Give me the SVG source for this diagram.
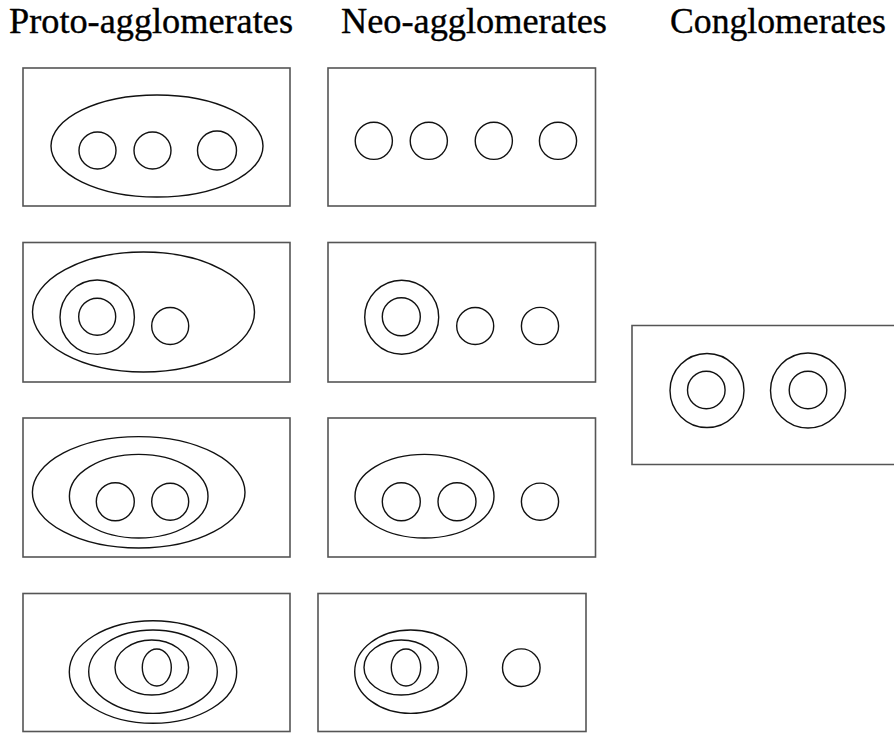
<svg xmlns="http://www.w3.org/2000/svg" width="894" height="733" viewBox="0 0 894 733">
  <style>
    .title { font-size: 35px; fill: #000; stroke: #000; stroke-width: 0.35; }
    .frame { fill: none; stroke: #555; stroke-width: 1.6; }
    .ring { fill: none; stroke: #111; stroke-width: 1.4; }
  </style>
  <rect width="894" height="733" fill="#fff"/>

  <!-- column headings -->
  <g id="headings" font-family="Liberation Serif">
    <text class="title" x="9" y="33" textLength="284" lengthAdjust="spacingAndGlyphs">Proto-agglomerates</text>
    <text class="title" x="341" y="33" textLength="266" lengthAdjust="spacingAndGlyphs">Neo-agglomerates</text>
    <text class="title" x="670" y="33" textLength="216" lengthAdjust="spacingAndGlyphs">Conglomerates</text>
  </g>

  <!-- Proto-agglomerates column -->
  <g id="proto-1">
    <rect class="frame" x="23" y="68" width="267" height="138"/>
    <ellipse class="ring" cx="157" cy="146" rx="106" ry="51"/>
    <circle class="ring" cx="97.5" cy="150.5" r="18.5"/>
    <circle class="ring" cx="152.5" cy="150.5" r="18.5"/>
    <circle class="ring" cx="217" cy="150.5" r="19.5"/>
  </g>
  <g id="proto-2">
    <rect class="frame" x="23" y="242.5" width="267" height="139.5"/>
    <ellipse class="ring" cx="143.5" cy="312" rx="111" ry="60"/>
    <circle class="ring" cx="97.2" cy="317.2" r="37.2"/>
    <circle class="ring" cx="97.2" cy="316.7" r="18.5"/>
    <circle class="ring" cx="170.2" cy="326" r="18.5"/>
  </g>
  <g id="proto-3">
    <rect class="frame" x="23" y="418" width="267" height="139"/>
    <ellipse class="ring" cx="138.7" cy="492.3" rx="106.3" ry="55.7"/>
    <ellipse class="ring" cx="138.7" cy="496.2" rx="69.3" ry="41.8"/>
    <circle class="ring" cx="115.3" cy="501.7" r="19"/>
    <circle class="ring" cx="170.2" cy="501.7" r="18.5"/>
  </g>
  <g id="proto-4">
    <rect class="frame" x="23" y="593.5" width="267" height="138"/>
    <ellipse class="ring" cx="153" cy="672" rx="83.7" ry="51.3"/>
    <ellipse class="ring" cx="153" cy="671.7" rx="64.3" ry="41.7"/>
    <ellipse class="ring" cx="151.8" cy="667.5" rx="36.8" ry="27.5"/>
    <ellipse class="ring" cx="156.8" cy="667.5" rx="14.5" ry="18.5"/>
  </g>

  <!-- Neo-agglomerates column -->
  <g id="neo-1">
    <rect class="frame" x="328" y="68" width="267.5" height="138"/>
    <circle class="ring" cx="373.8" cy="140.8" r="18.6"/>
    <circle class="ring" cx="428.8" cy="140.8" r="18.6"/>
    <circle class="ring" cx="493.8" cy="140.8" r="18.6"/>
    <circle class="ring" cx="558" cy="140.8" r="18.6"/>
  </g>
  <g id="neo-2">
    <rect class="frame" x="328" y="242.5" width="267.5" height="139.5"/>
    <circle class="ring" cx="401.7" cy="317.2" r="37"/>
    <circle class="ring" cx="401.3" cy="316.7" r="19"/>
    <circle class="ring" cx="475.2" cy="326" r="18.5"/>
    <circle class="ring" cx="540" cy="326" r="18.6"/>
  </g>
  <g id="neo-3">
    <rect class="frame" x="328" y="418" width="267.5" height="139"/>
    <ellipse class="ring" cx="424.5" cy="496.2" rx="69.5" ry="41.8"/>
    <circle class="ring" cx="401.3" cy="501.7" r="19"/>
    <circle class="ring" cx="457" cy="501.7" r="19"/>
    <circle class="ring" cx="540" cy="501.7" r="18.6"/>
  </g>
  <g id="neo-4">
    <rect class="frame" x="318" y="593.5" width="268" height="138"/>
    <ellipse class="ring" cx="410.7" cy="671.7" rx="56" ry="41.7"/>
    <ellipse class="ring" cx="401.2" cy="667.5" rx="37.2" ry="27.5"/>
    <ellipse class="ring" cx="406" cy="667.5" rx="14.7" ry="18.5"/>
    <circle class="ring" cx="521.3" cy="667.7" r="18.8"/>
  </g>

  <!-- Conglomerates column (frame runs off the right edge) -->
  <g id="conglomerate">
    <path class="frame" d="M894 325.5 H632 V464.5 H894"/>
    <circle class="ring" cx="707" cy="390.5" r="37"/>
    <circle class="ring" cx="706.3" cy="390" r="18.8"/>
    <circle class="ring" cx="808" cy="390.5" r="37.5"/>
    <circle class="ring" cx="808" cy="390" r="18.8"/>
  </g>

  <!-- no connectors in this figure -->
  <g id="connectors"/>
</svg>
